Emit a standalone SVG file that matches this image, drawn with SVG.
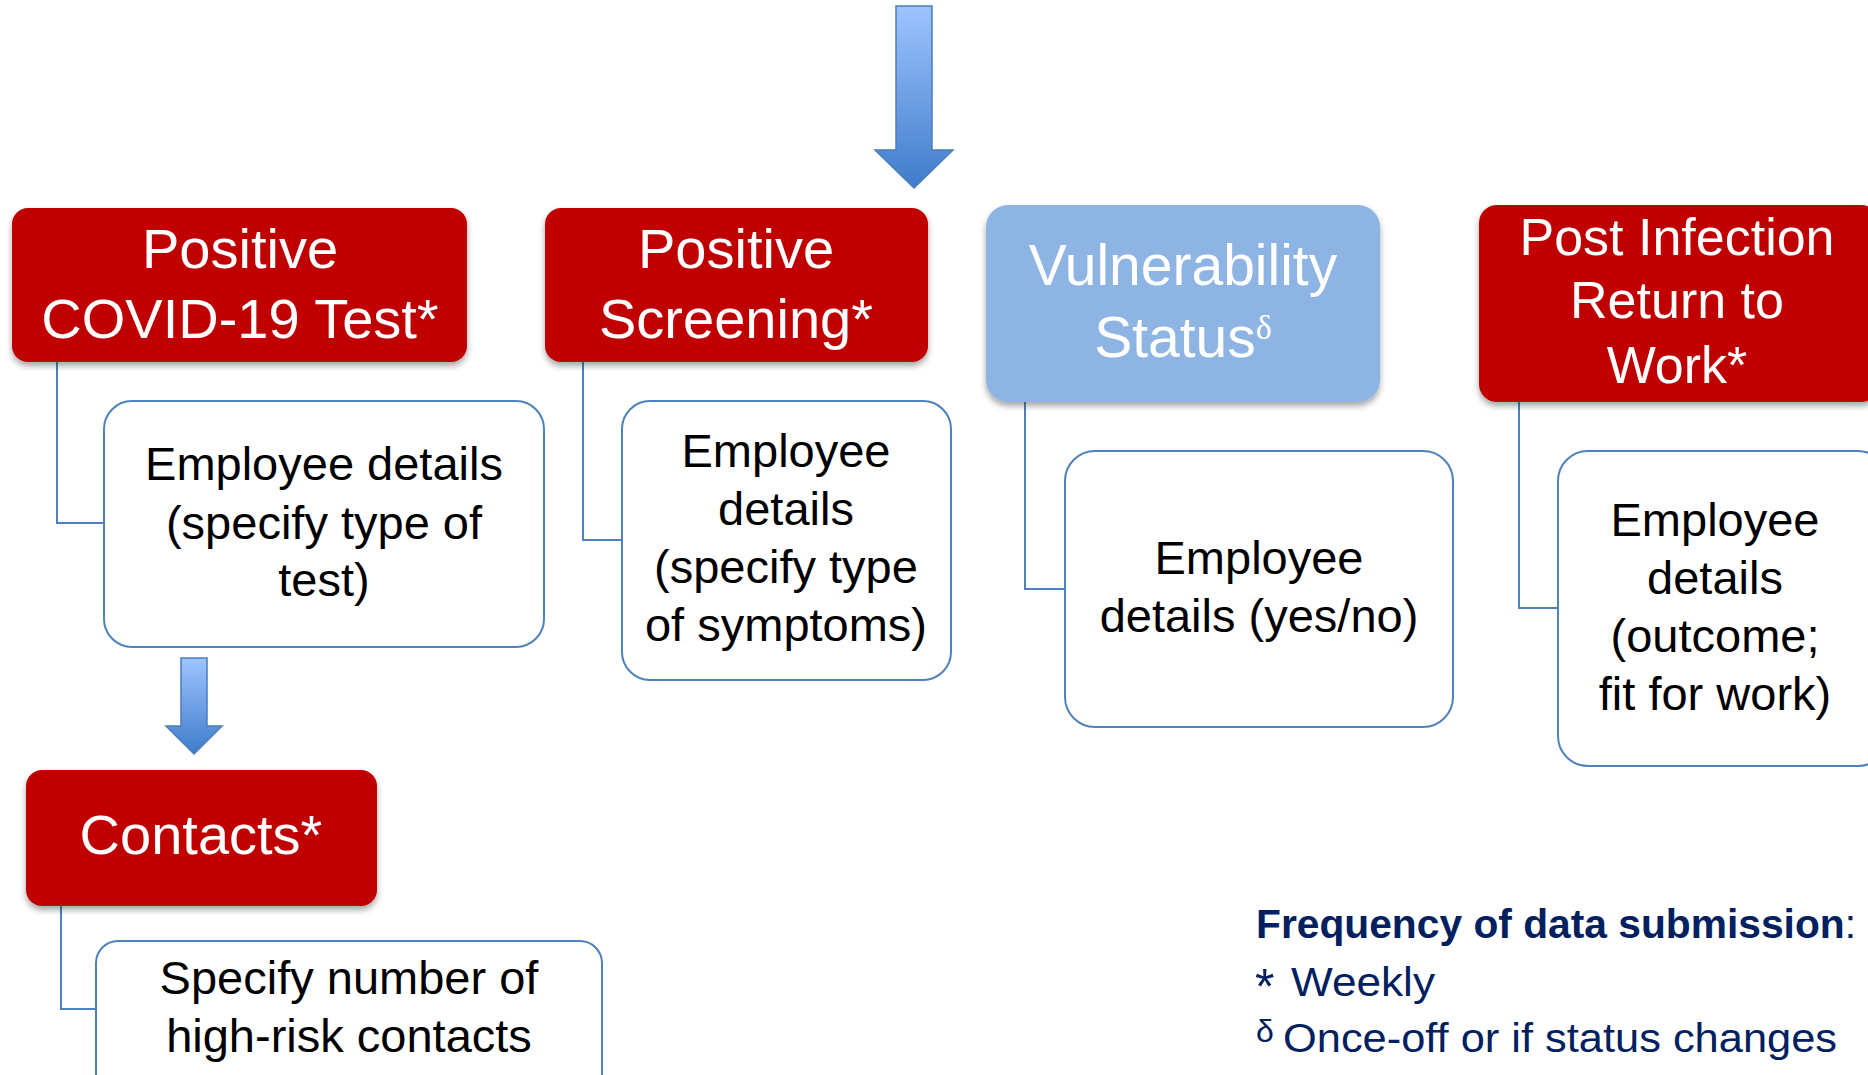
<svg xmlns="http://www.w3.org/2000/svg" width="1868" height="1075" viewBox="0 0 1868 1075">
<defs>
<linearGradient id="ag" x1="0" y1="0" x2="0" y2="1">
<stop offset="0" stop-color="#9EC4FF"/>
<stop offset="1" stop-color="#3F7CCB"/>
</linearGradient>
<filter id="sh" x="-10%" y="-10%" width="120%" height="130%">
<feDropShadow dx="0" dy="4" stdDeviation="3" flood-color="#000" flood-opacity="0.35"/>
</filter>
</defs>
<style>
.red{fill:#C00000;filter:url(#sh)}
.blue{fill:#8EB4E3;filter:url(#sh)}
.wb{fill:#FFFFFF;stroke:#4F81BD;stroke-width:2}
.con{fill:none;stroke:#4F81BD;stroke-width:2}
.arr{fill:url(#ag);stroke:#4A7EBB;stroke-width:1.5}
.ht{font-family:"Liberation Sans",Arial,sans-serif;fill:#FFFFFF;text-anchor:middle}
.bt{font-family:"Liberation Sans",Arial,sans-serif;fill:#000000;font-size:47px;text-anchor:middle}
.lg{font-family:"Liberation Sans",Arial,sans-serif;fill:#002060}
</style>
<rect width="1868" height="1075" fill="#FFFFFF"/>

<g id="connectors">
<path class="arr" d="M896,6 H932 V150 H953 L914,188 L875,150 H896 Z"/>
<path class="arr" d="M181,658 H207 V726 H222 L194,754 L166,726 H181 Z"/>
<path class="con" d="M57,362 V523 H104"/>
<path class="con" d="M583,362 V540 H622"/>
<path class="con" d="M1025,402 V589 H1065"/>
<path class="con" d="M1519,402 V608 H1558"/>
<path class="con" d="M61,906 V1009 H96"/>
</g>

<g id="node-covid-test">
<rect class="red" x="12" y="208" width="455" height="154" rx="16"/>
<text class="ht" font-size="56"><tspan x="240" y="268">Positive</tspan><tspan x="240" y="338">COVID-19 Test*</tspan></text>
</g>
<g id="node-covid-test-details">
<rect class="wb" x="104" y="401" width="440" height="246" rx="28"/>
<text class="bt"><tspan x="324" y="480">Employee details</tspan><tspan x="324" y="539">(specify type of</tspan><tspan x="324" y="596">test)</tspan></text>
</g>

<g id="node-screening">
<rect class="red" x="545" y="208" width="383" height="154" rx="16"/>
<text class="ht" font-size="56"><tspan x="736" y="268">Positive</tspan><tspan x="736" y="338">Screening*</tspan></text>
</g>
<g id="node-screening-details">
<rect class="wb" x="622" y="401" width="329" height="279" rx="28"/>
<text class="bt"><tspan x="786" y="467">Employee</tspan><tspan x="786" y="525">details</tspan><tspan x="786" y="583">(specify type</tspan><tspan x="786" y="641">of symptoms)</tspan></text>
</g>

<g id="node-vulnerability">
<rect class="blue" x="986" y="205" width="394" height="197" rx="22"/>
<text class="ht" font-size="57"><tspan x="1183" y="285">Vulnerability</tspan><tspan x="1183" y="357">Status<tspan font-family="Liberation Serif,serif" font-size="34" dy="-18">δ</tspan></tspan></text>
</g>
<g id="node-vulnerability-details">
<rect class="wb" x="1065" y="451" width="388" height="276" rx="30"/>
<text class="bt"><tspan x="1259" y="574">Employee</tspan><tspan x="1259" y="632">details (yes/no)</tspan></text>
</g>

<g id="node-post-infection">
<rect class="red" x="1479" y="205" width="400" height="197" rx="18"/>
<text class="ht" font-size="52"><tspan x="1677" y="255">Post Infection</tspan><tspan x="1677" y="318">Return to</tspan><tspan x="1677" y="383">Work*</tspan></text>
</g>
<g id="node-post-infection-details">
<rect class="wb" x="1558" y="451" width="330" height="315" rx="30"/>
<text class="bt"><tspan x="1715" y="536">Employee</tspan><tspan x="1715" y="594">details</tspan><tspan x="1715" y="652">(outcome;</tspan><tspan x="1715" y="710">fit for work)</tspan></text>
</g>

<g id="node-contacts">
<rect class="red" x="26" y="770" width="351" height="136" rx="16"/>
<text class="ht" font-size="56" x="201" y="854">Contacts*</text>
</g>
<g id="node-contacts-details">
<rect class="wb" x="96" y="941" width="506" height="160" rx="22"/>
<text class="bt"><tspan x="349" y="994">Specify number of</tspan><tspan x="349" y="1052">high-risk contacts</tspan></text>
</g>

<g id="legend">
<text class="lg" x="1256" y="938" font-size="40" font-weight="bold" textLength="600" lengthAdjust="spacingAndGlyphs">Frequency of data submission<tspan font-weight="normal">:</tspan></text>
<text class="lg" x="1255" y="1004" font-size="50">*</text>
<text class="lg" x="1291" y="996" font-size="41" textLength="144" lengthAdjust="spacingAndGlyphs">Weekly</text>
<text class="lg" x="1256" y="1042" font-size="32" font-family="Liberation Serif,serif">δ</text>
<text class="lg" x="1283" y="1052" font-size="41" textLength="554" lengthAdjust="spacingAndGlyphs">Once-off or if status changes</text>
</g>
</svg>
